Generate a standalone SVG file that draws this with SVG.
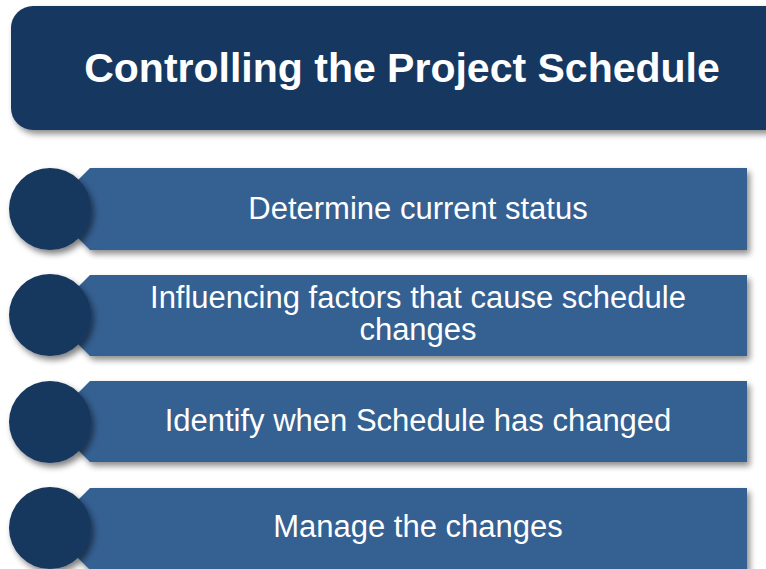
<svg xmlns="http://www.w3.org/2000/svg" width="766" height="569" viewBox="0 0 766 569">
<defs>
<filter id="sh" x="-10%" y="-10%" width="130%" height="140%">
<feGaussianBlur in="SourceAlpha" stdDeviation="3"/>
<feOffset dx="3" dy="4" result="b"/>
<feComponentTransfer><feFuncA type="linear" slope="0.45"/></feComponentTransfer>
<feMerge><feMergeNode/><feMergeNode in="SourceGraphic"/></feMerge>
</filter>
<filter id="shc" x="-20%" y="-20%" width="150%" height="150%">
<feGaussianBlur in="SourceAlpha" stdDeviation="3"/>
<feOffset dx="3" dy="4" result="b"/>
<feComponentTransfer><feFuncA type="linear" slope="0.5"/></feComponentTransfer>
<feMerge><feMergeNode/><feMergeNode in="SourceGraphic"/></feMerge>
</filter>
</defs>
<style>
.bar{fill:#366092;filter:url(#sh)}
.dot{fill:#17375e;filter:url(#shc)}
.t{fill:#fff;font-family:"Liberation Sans",Arial,sans-serif;font-size:31px;text-anchor:middle}
.title{fill:#fff;font-family:"Liberation Sans",Arial,sans-serif;font-size:41px;font-weight:bold;text-anchor:middle}
</style>
<rect width="766" height="569" fill="#fff"/>
<g id="title">
<rect x="11" y="6" width="790" height="124" rx="22" fill="#193760" filter="url(#sh)"/>
<text class="title" x="402" y="82">Controlling the Project Schedule</text>
</g>
<g id="row1">
<path class="bar" d="M90 168 H747 V250 H90 L78 238 V180 Z"/>
<circle class="dot" cx="50" cy="209" r="41"/>
<text class="t" x="418" y="219">Determine current status</text>
</g>
<g id="row2">
<path class="bar" d="M90 275 H747 V356 H90 L78 344 V287 Z"/>
<circle class="dot" cx="50" cy="315" r="41"/>
<text class="t" x="418" y="308">Influencing factors that cause schedule</text>
<text class="t" x="418" y="340">changes</text>
</g>
<g id="row3">
<path class="bar" d="M90 381 H747 V462 H90 L78 450 V393 Z"/>
<circle class="dot" cx="50" cy="422" r="41"/>
<text class="t" x="418" y="431">Identify when Schedule has changed</text>
</g>
<g id="row4">
<path class="bar" d="M90 488 H747 V570 H90 L78 558 V500 Z"/>
<circle class="dot" cx="50" cy="528" r="41"/>
<text class="t" x="418" y="537">Manage the changes</text>
</g>
<g id="connectors"/>
</svg>
